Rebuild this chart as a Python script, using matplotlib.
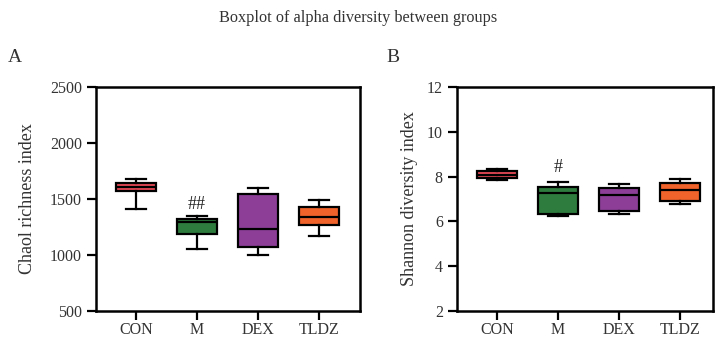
import matplotlib
matplotlib.use("Agg")
import matplotlib.pyplot as plt

plt.rcParams['font.family'] = ['Liberation Serif', 'DejaVu Serif']

groups = ["CON", "M", "DEX", "TLDZ"]
colors = ["#e84a57", "#2e7d3f", "#8d3f98", "#f0632b"]

# Chao1 richness: whisker low, q1, median, q3, whisker high
chao_lo = [1415, 1054, 1000, 1166]
chao_q1 = [1568, 1184, 1069, 1267]
chao_med = [1607, 1296, 1234, 1341]
chao_q3 = [1646, 1326, 1542, 1433]
chao_hi = [1675, 1349, 1598, 1491]

# Shannon diversity
shan_lo = [7.87, 6.24, 6.33, 6.76]
shan_q1 = [7.93, 6.31, 6.46, 6.91]
shan_med = [8.09, 7.25, 7.19, 7.39]
shan_q3 = [8.25, 7.54, 7.51, 7.73]
shan_hi = [8.32, 7.75, 7.67, 7.88]


def make_stats(lo, q1, med, q3, hi):
    stats = []
    for i in range(len(groups)):
        stats.append(dict(whislo=lo[i], q1=q1[i], med=med[i], q3=q3[i],
                          whishi=hi[i], label=groups[i], fliers=[]))
    return stats


def draw_box(ax, stats, ylim, yticks, ylabel, xlim, pad):
    lw = 1.6
    bp = ax.bxp(stats, positions=range(len(groups)), widths=0.66,
                patch_artist=True, showfliers=False,
                boxprops=dict(linewidth=lw, edgecolor="black"),
                medianprops=dict(color="black", linewidth=lw),
                whiskerprops=dict(color="black", linewidth=lw),
                capprops=dict(color="black", linewidth=lw),
                capwidths=0.33)
    for patch, c in zip(bp["boxes"], colors):
        patch.set_facecolor(c)
    ax.set_ylim(*ylim)
    ax.set_yticks(yticks)
    ax.set_xlim(*xlim)
    ax.set_ylabel(ylabel, fontsize=13, color="#333333", labelpad=pad)
    for s in ax.spines.values():
        s.set_linewidth(1.8)
    ax.tick_params(axis="both", direction="out", length=6.5, width=1.6,
                   labelsize=11.5, labelcolor="#333333")
    ax.tick_params(axis="x", pad=1.5)


fig = plt.figure(figsize=(7.16, 3.4), dpi=100)
ax1 = fig.add_axes([0.1337, 0.0853, 0.3691, 0.6587])
ax2 = fig.add_axes([0.6378, 0.0853, 0.3576, 0.6587])

draw_box(ax1, make_stats(chao_lo, chao_q1, chao_med, chao_q3, chao_hi),
         (500, 2500), [500, 1000, 1500, 2000, 2500], "Chaol richness index",
         (-0.66, 3.68), 10)
draw_box(ax2, make_stats(shan_lo, shan_q1, shan_med, shan_q3, shan_hi),
         (2, 12), [2, 4, 6, 8, 10, 12], "Shannon diversity index",
         (-0.66, 3.54), 6)

ax1.text(1, chao_hi[1] + 25, "##", ha="center", va="bottom", fontsize=13,
         color="#222222")
ax2.text(1, shan_hi[1] + 0.3, "#", ha="center", va="bottom", fontsize=13,
         color="#222222")

fig.text(0.5, 0.947, "Boxplot of alpha diversity between groups",
         ha="center", va="center", fontsize=11.7, color="#333333")
fig.text(0.021, 0.832, "A", ha="center", va="center", fontsize=14,
         color="#333333")
fig.text(0.549, 0.832, "B", ha="center", va="center", fontsize=14,
         color="#333333")

fig.savefig("out.png", dpi=100)
